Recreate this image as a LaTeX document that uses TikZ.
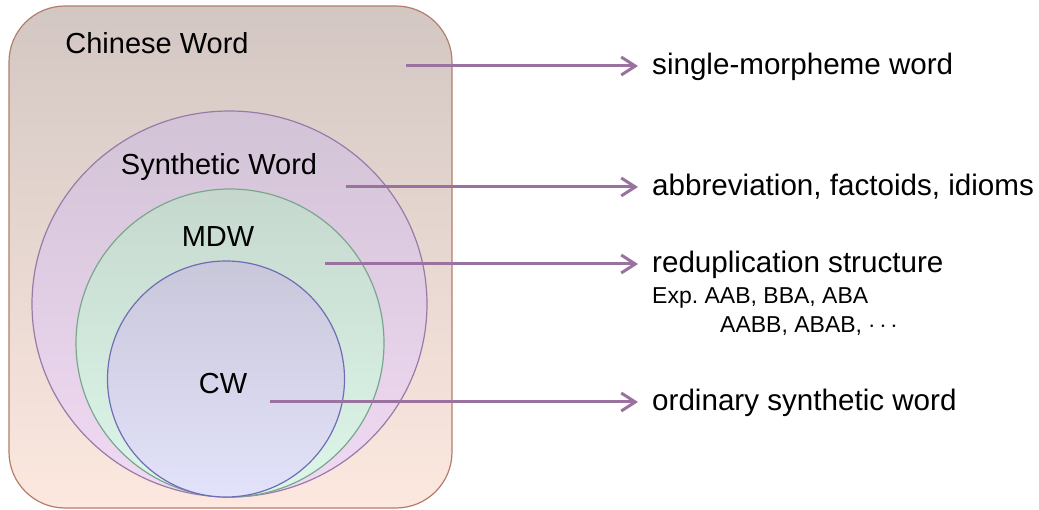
\documentclass[tikz,border=0pt]{standalone}
\usepackage{fontspec}
\setmainfont{Liberation Sans}
\usetikzlibrary{arrows.meta}

% palette
\definecolor{boxTop}{HTML}{D3C7C3}
\definecolor{boxBot}{HTML}{FCE8DF}
\definecolor{boxLine}{HTML}{B47D69}
\definecolor{synTop}{HTML}{D2C3D6}
\definecolor{synBot}{HTML}{F1DAF4}
\definecolor{synLine}{HTML}{9A7AA9}
\definecolor{mdwTop}{HTML}{C6D8CE}
\definecolor{mdwBot}{HTML}{DDF7EA}
\definecolor{mdwLine}{HTML}{7BA68E}
\definecolor{cwTop}{HTML}{C9C7DA}
\definecolor{cwBot}{HTML}{E2E2FA}
\definecolor{cwLine}{HTML}{6E6EB4}
\definecolor{arrowCol}{HTML}{9A729F}

\tikzset{
  region/.style={line width=1.2pt},
  setname/.style={anchor=base, inner sep=0pt, font=\fontsize{29}{34}\selectfont},
  desc/.style={anchor=base west, inner sep=0pt, font=\fontsize{29.6}{34}\selectfont},
  example/.style={anchor=base west, inner sep=0pt, font=\fontsize{23}{27}\selectfont},
  pointer/.style={arrowCol, line width=3pt,
    -{Straight Barb[length=14pt, width=18pt]}, shorten >=14pt},
}

\begin{document}
\begin{tikzpicture}[x=1pt, y=-1pt]
  \useasboundingbox (0,0) rectangle (1039,510);

  % nested sets
  \path[region, draw=boxLine, top color=boxTop, bottom color=boxBot,
        rounded corners=56pt] (9,6) rectangle (452,508);
  \path[region, draw=synLine, top color=synTop, bottom color=synBot]
        (229.5,304) ellipse [x radius=197.5pt, y radius=193pt];
  \path[region, draw=mdwLine, top color=mdwTop, bottom color=mdwBot]
        (230,343) ellipse [x radius=154pt, y radius=154pt];
  \path[region, draw=cwLine, top color=cwTop, bottom color=cwBot]
        (226,379) ellipse [x radius=118.5pt, y radius=118pt];

  % set names
  \node[setname] (chinese) at (157,54) {Chinese Word};
  \node[setname] (synth)   at (219,175) {Synthetic Word};
  \node[setname] (mdw)     at (218,247) {MDW};
  \node[setname] (cw)      at (223,394) {CW};

  % arrow starts
  \coordinate (s1) at (406,66);
  \coordinate (s2) at (346,187);
  \coordinate (s3) at (325,264);
  \coordinate (s4) at (270,402);

  % descriptions
  \node[desc] (d1) at (652,75)  {single-morpheme word};
  \node[desc] (d2) at (652,196) {abbreviation, factoids, idioms};
  \node[desc] (d3) at (652,273) {reduplication structure};
  \node[example] (e1) at (652,304) {Exp.\ AAB, BBA, ABA};
  \node[example] (e2) at (720,333) {AABB, ABAB, $\cdots$};
  \node[desc] (d4) at (652,410) {ordinary synthetic word};

  % pointers
  \draw[pointer] (s1) -- (d1.west |- s1);
  \draw[pointer] (s2) -- (d2.west |- s2);
  \draw[pointer] (s3) -- (d3.west |- s3);
  \draw[pointer] (s4) -- (d4.west |- s4);
\end{tikzpicture}
\end{document}
